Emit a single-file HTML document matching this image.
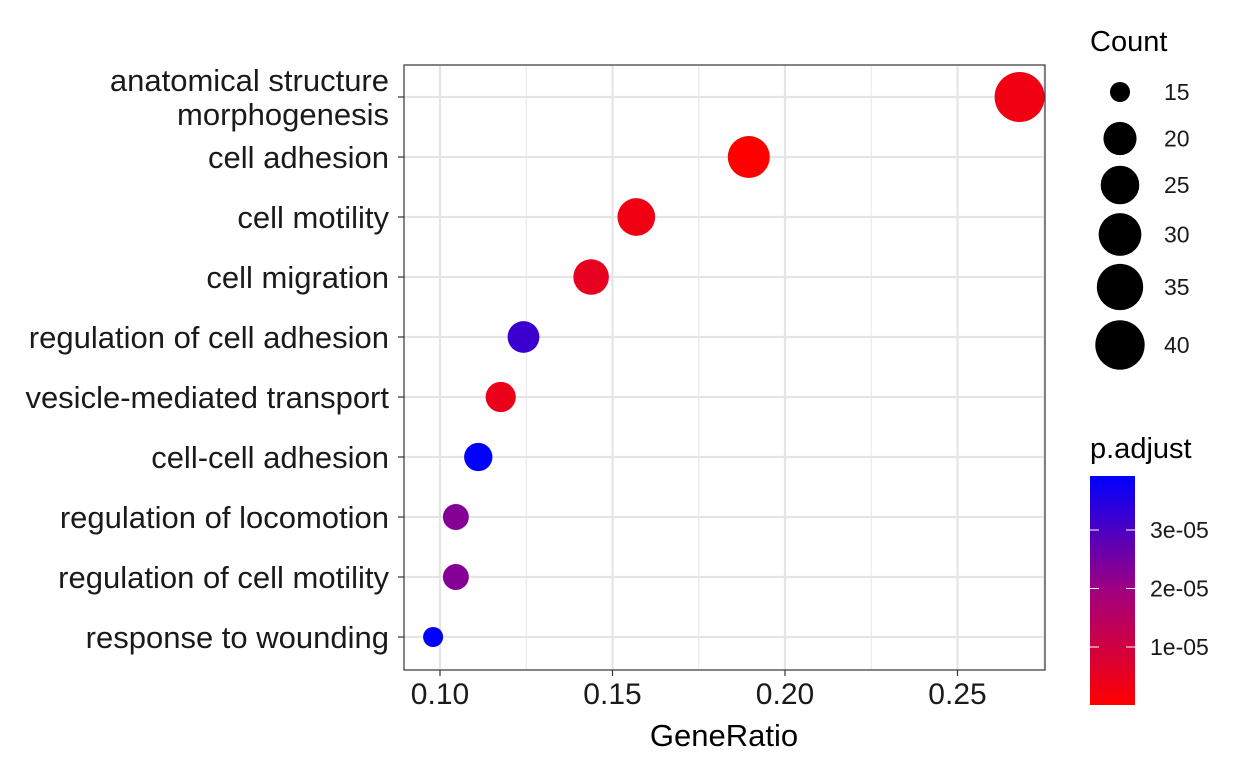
<!DOCTYPE html>
<html><head><meta charset="utf-8"><style>
body{margin:0;background:#fff;}
svg text{font-family:"Liberation Sans",Arial,sans-serif;}
</style></head><body>
<svg id="chart" width="1240" height="766" xmlns="http://www.w3.org/2000/svg">
<defs><linearGradient id="grad" x1="0" y1="1" x2="0" y2="0">
<stop offset="0" stop-color="#ff0000"/><stop offset="0.5" stop-color="#a0007f"/><stop offset="1" stop-color="#0000ff"/></linearGradient></defs>
<g id="grid"></g><g id="marks"></g><g id="axes"></g><g id="legend"></g>
</svg>
<script>
const categories = ["anatomical structure|morphogenesis","cell adhesion","cell motility","cell migration","regulation of cell adhesion","vesicle-mediated transport","cell-cell adhesion","regulation of locomotion","regulation of cell motility","response to wounding"];
const geneRatio = [0.2680,0.1895,0.1569,0.1438,0.1242,0.1176,0.1111,0.1046,0.1046,0.0980];
const counts = [41,29,24,22,19,18,17,16,16,15];
const padj = [0.3e-5,0.02e-5,0.3e-5,0.5e-5,3.2e-5,0.4e-5,3.9e-5,2.3e-5,2.3e-5,3.9e-5];
const xTicks = [0.10,0.15,0.20,0.25];
const sizeBreaks = [15,20,25,30,35,40];
const colorTicks = [1e-5,2e-5,3e-5];

const NS="http://www.w3.org/2000/svg";
function el(t,a,p){const e=document.createElementNS(NS,t);for(const k in a)e.setAttribute(k,a[k]);p.appendChild(e);return e;}
const X=v=>440+(v-0.10)*3450;
const Y=i=>97+i*60;
const R=c=>10+15*Math.sqrt(Math.max(0,(c-15)/26));
function col(p){const t=Math.min(1,Math.max(0,(p-0.01e-5)/(3.92e-5-0.01e-5)));
 let r,b; if(t<0.5){r=255-(255-160)*t*2;b=127*t*2;}else{r=160-160*(t-0.5)*2;b=127+128*(t-0.5)*2;}
 return `rgb(${Math.round(r)},0,${Math.round(b)})`;}
const grid=document.getElementById('grid'),marks=document.getElementById('marks'),axes=document.getElementById('axes'),leg=document.getElementById('legend');
const L=404,Rr=1045,T=65,B=670;
for(let i=0;i<xTicks.length-1;i++){const m=(xTicks[i]+xTicks[i+1])/2;const g=el('line',{x1:X(m),x2:X(m),y1:T,y2:B,stroke:'#ebebeb','stroke-width':1.2},grid);
}
{const m=xTicks[xTicks.length-1]+0.025;el('line',{x1:X(m),x2:X(m),y1:T,y2:B,stroke:'#ebebeb','stroke-width':1.2},grid);}
xTicks.forEach(v=>{const g=el('line',{x1:X(v),x2:X(v),y1:T,y2:B,stroke:'#e5e5e5','stroke-width':2.2},grid);

el('line',{x1:X(v),x2:X(v),y1:B,y2:B+6,stroke:'#333','stroke-width':1.2},axes);
const t=el('text',{x:X(v),y:B+34,'font-size':30,'text-anchor':'middle',fill:'#1a1a1a'},axes);t.textContent=v.toFixed(2);
});
categories.forEach((c,i)=>{const g=el('line',{x1:L,x2:Rr,y1:Y(i),y2:Y(i),stroke:'#e5e5e5','stroke-width':2.2},grid);

el('line',{x1:L-6,x2:L,y1:Y(i),y2:Y(i),stroke:'#333','stroke-width':1.2},axes);
const parts=c.split('|');
parts.forEach((p,j)=>{const t=el('text',{x:L-15,y:Y(i)+11+(j-(parts.length-1)/2)*34,'font-size':31,'text-anchor':'end',fill:'#1a1a1a'},axes);t.textContent=p;
});
const d=el('circle',{cx:X(geneRatio[i]),cy:Y(i),r:R(counts[i]),fill:col(padj[i])},marks);
});
const fr=el('rect',{x:L,y:T,width:Rr-L,height:B-T,fill:'none',stroke:'#333','stroke-width':1.2},axes);

const xt=el('text',{x:724,y:746,'font-size':31,'text-anchor':'middle',fill:'#000'},axes);xt.textContent='GeneRatio';

const st=el('text',{x:1090,y:51,'font-size':29,fill:'#000'},leg);st.textContent='Count';

const ly=[92,138.5,185,234.5,287,345];
sizeBreaks.forEach((s,i)=>{const c=el('circle',{cx:1120,cy:ly[i],r:R(s),fill:'#000'},leg);

const t=el('text',{x:1164,y:ly[i]+8,'font-size':23,fill:'#1a1a1a'},leg);t.textContent=s;
});
const ct=el('text',{x:1090,y:458,'font-size':29,fill:'#000'},leg);ct.textContent='p.adjust';

const cb=el('rect',{x:1090,y:476,width:45,height:229,fill:'url(#grad)'},leg);

const CY=p=>647-(p-1e-5)/1e-5*58.5;
colorTicks.forEach(p=>{el('line',{x1:1090,x2:1099,y1:CY(p),y2:CY(p),stroke:'#fff','stroke-width':1},leg);
el('line',{x1:1126,x2:1135,y1:CY(p),y2:CY(p),stroke:'#fff','stroke-width':1},leg);
const t=el('text',{x:1150,y:CY(p)+8,'font-size':23,fill:'#1a1a1a'},leg);t.textContent=Math.round(p*1e5)+'e-05';
});
</script>
</body></html>
